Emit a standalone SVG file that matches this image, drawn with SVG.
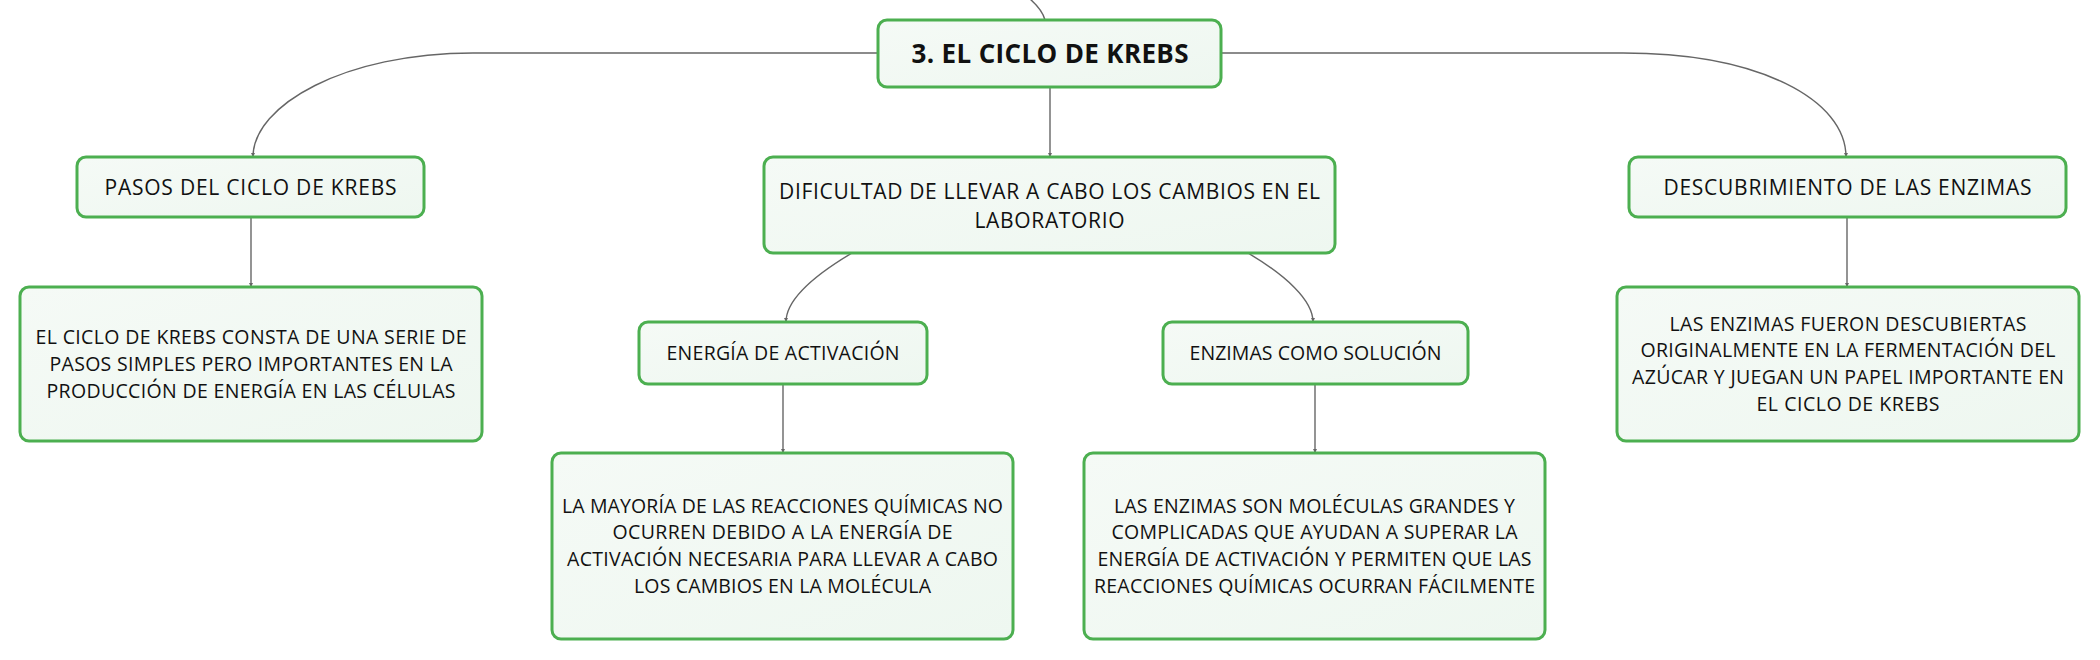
<svg xmlns="http://www.w3.org/2000/svg" width="2100" height="660" viewBox="0 0 2100 660">
<style>
.box{fill:url(#bg);stroke:#4caf50;stroke-width:3}
.t{font-family:"Open Sans","Liberation Sans",sans-serif;fill:#111;text-anchor:middle}
.b{font-size:19.5px}
.h{font-size:21px}
.r{font-size:26px;font-weight:700}
.c{fill:none;stroke:#666;stroke-width:1.4}
</style>
<defs>
<linearGradient id="bg" x1="0" y1="0" x2="1" y2="1">
<stop offset="0" stop-color="#f5faf6"/>
<stop offset="1" stop-color="#eef7f0"/>
</linearGradient>
<marker id="a" markerUnits="userSpaceOnUse" markerWidth="5" markerHeight="5" refX="4" refY="2.5" orient="auto">
<path d="M0,0.5 L4,2.5 L0,4.5 z" fill="#666"/>
</marker>
</defs>
<rect width="2100" height="660" fill="#fff"/>
<g id="connectors">
<path class="c" d="M1030,-1 C1038,6 1043,12 1045,20"/>
<path class="c" marker-end="url(#a)" d="M878,53 L473,53 C345,53 253,105 253,157"/>
<path class="c" marker-end="url(#a)" d="M1221,53 L1623,53 C1760,53 1846,100 1846,157"/>
<path class="c" marker-end="url(#a)" d="M1050,87 V157"/>
<path class="c" marker-end="url(#a)" d="M852,253 C815,275 786,300 786,322"/>
<path class="c" marker-end="url(#a)" d="M1248,253 C1285,275 1313,300 1313,322"/>
<path class="c" marker-end="url(#a)" d="M251,217 V287"/>
<path class="c" marker-end="url(#a)" d="M1847,217 V287"/>
<path class="c" marker-end="url(#a)" d="M783,384 V453"/>
<path class="c" marker-end="url(#a)" d="M1315,384 V453"/>
</g>
<g id="root">
<rect class="box" x="878" y="20" width="343" height="67" rx="9"/>
<text class="t r" x="1050" y="62.5" textLength="277">3. EL CICLO DE KREBS</text>
</g>
<g id="pasos">
<rect class="box" x="77" y="157" width="347" height="60" rx="9"/>
<text class="t h" x="250.5" y="194.5" textLength="292">PASOS DEL CICLO DE KREBS</text>
</g>
<g id="dificultad">
<rect class="box" x="764" y="157" width="571" height="96" rx="9"/>
<text class="t h" x="1049.5" y="198.5" textLength="541">DIFICULTAD DE LLEVAR A CABO LOS CAMBIOS EN EL</text>
<text class="t h" x="1049.5" y="228" textLength="150">LABORATORIO</text>
</g>
<g id="descubrimiento">
<rect class="box" x="1629" y="157" width="437" height="60" rx="9"/>
<text class="t h" x="1847.5" y="194.5" textLength="368">DESCUBRIMIENTO DE LAS ENZIMAS</text>
</g>
<g id="elciclo">
<rect class="box" x="20" y="287" width="462" height="154" rx="9"/>
<text class="t b" x="251" y="344" textLength="431">EL CICLO DE KREBS CONSTA DE UNA SERIE DE</text>
<text class="t b" x="251" y="370.8" textLength="403">PASOS SIMPLES PERO IMPORTANTES EN LA</text>
<text class="t b" x="251" y="397.6" textLength="409">PRODUCCIÓN DE ENERGÍA EN LAS CÉLULAS</text>
</g>
<g id="fermentacion">
<rect class="box" x="1617" y="287" width="462" height="154" rx="9"/>
<text class="t b" x="1848" y="330.6" textLength="357">LAS ENZIMAS FUERON DESCUBIERTAS</text>
<text class="t b" x="1848" y="357.4" textLength="415">ORIGINALMENTE EN LA FERMENTACIÓN DEL</text>
<text class="t b" x="1848" y="384.2" textLength="432">AZÚCAR Y JUEGAN UN PAPEL IMPORTANTE EN</text>
<text class="t b" x="1848" y="411" textLength="183">EL CICLO DE KREBS</text>
</g>
<g id="energia">
<rect class="box" x="639" y="322" width="288" height="62" rx="9"/>
<text class="t b" x="783" y="359.8" textLength="233">ENERGÍA DE ACTIVACIÓN</text>
</g>
<g id="enzimascomo">
<rect class="box" x="1163" y="322" width="305" height="62" rx="9"/>
<text class="t b" x="1315.5" y="359.8" textLength="252">ENZIMAS COMO SOLUCIÓN</text>
</g>
<g id="mayoria">
<rect class="box" x="552" y="453" width="461" height="186" rx="9"/>
<text class="t b" x="782.5" y="512.6" textLength="441">LA MAYORÍA DE LAS REACCIONES QUÍMICAS NO</text>
<text class="t b" x="782.5" y="539.4" textLength="340">OCURREN DEBIDO A LA ENERGÍA DE</text>
<text class="t b" x="782.5" y="566.2" textLength="431">ACTIVACIÓN NECESARIA PARA LLEVAR A CABO</text>
<text class="t b" x="782.5" y="593" textLength="297">LOS CAMBIOS EN LA MOLÉCULA</text>
</g>
<g id="enzimasson">
<rect class="box" x="1084" y="453" width="461" height="186" rx="9"/>
<text class="t b" x="1314.5" y="512.6" textLength="401">LAS ENZIMAS SON MOLÉCULAS GRANDES Y</text>
<text class="t b" x="1314.5" y="539.4" textLength="406">COMPLICADAS QUE AYUDAN A SUPERAR LA</text>
<text class="t b" x="1314.5" y="566.2" textLength="434">ENERGÍA DE ACTIVACIÓN Y PERMITEN QUE LAS</text>
<text class="t b" x="1314.5" y="593" textLength="441">REACCIONES QUÍMICAS OCURRAN FÁCILMENTE</text>
</g>
</svg>
